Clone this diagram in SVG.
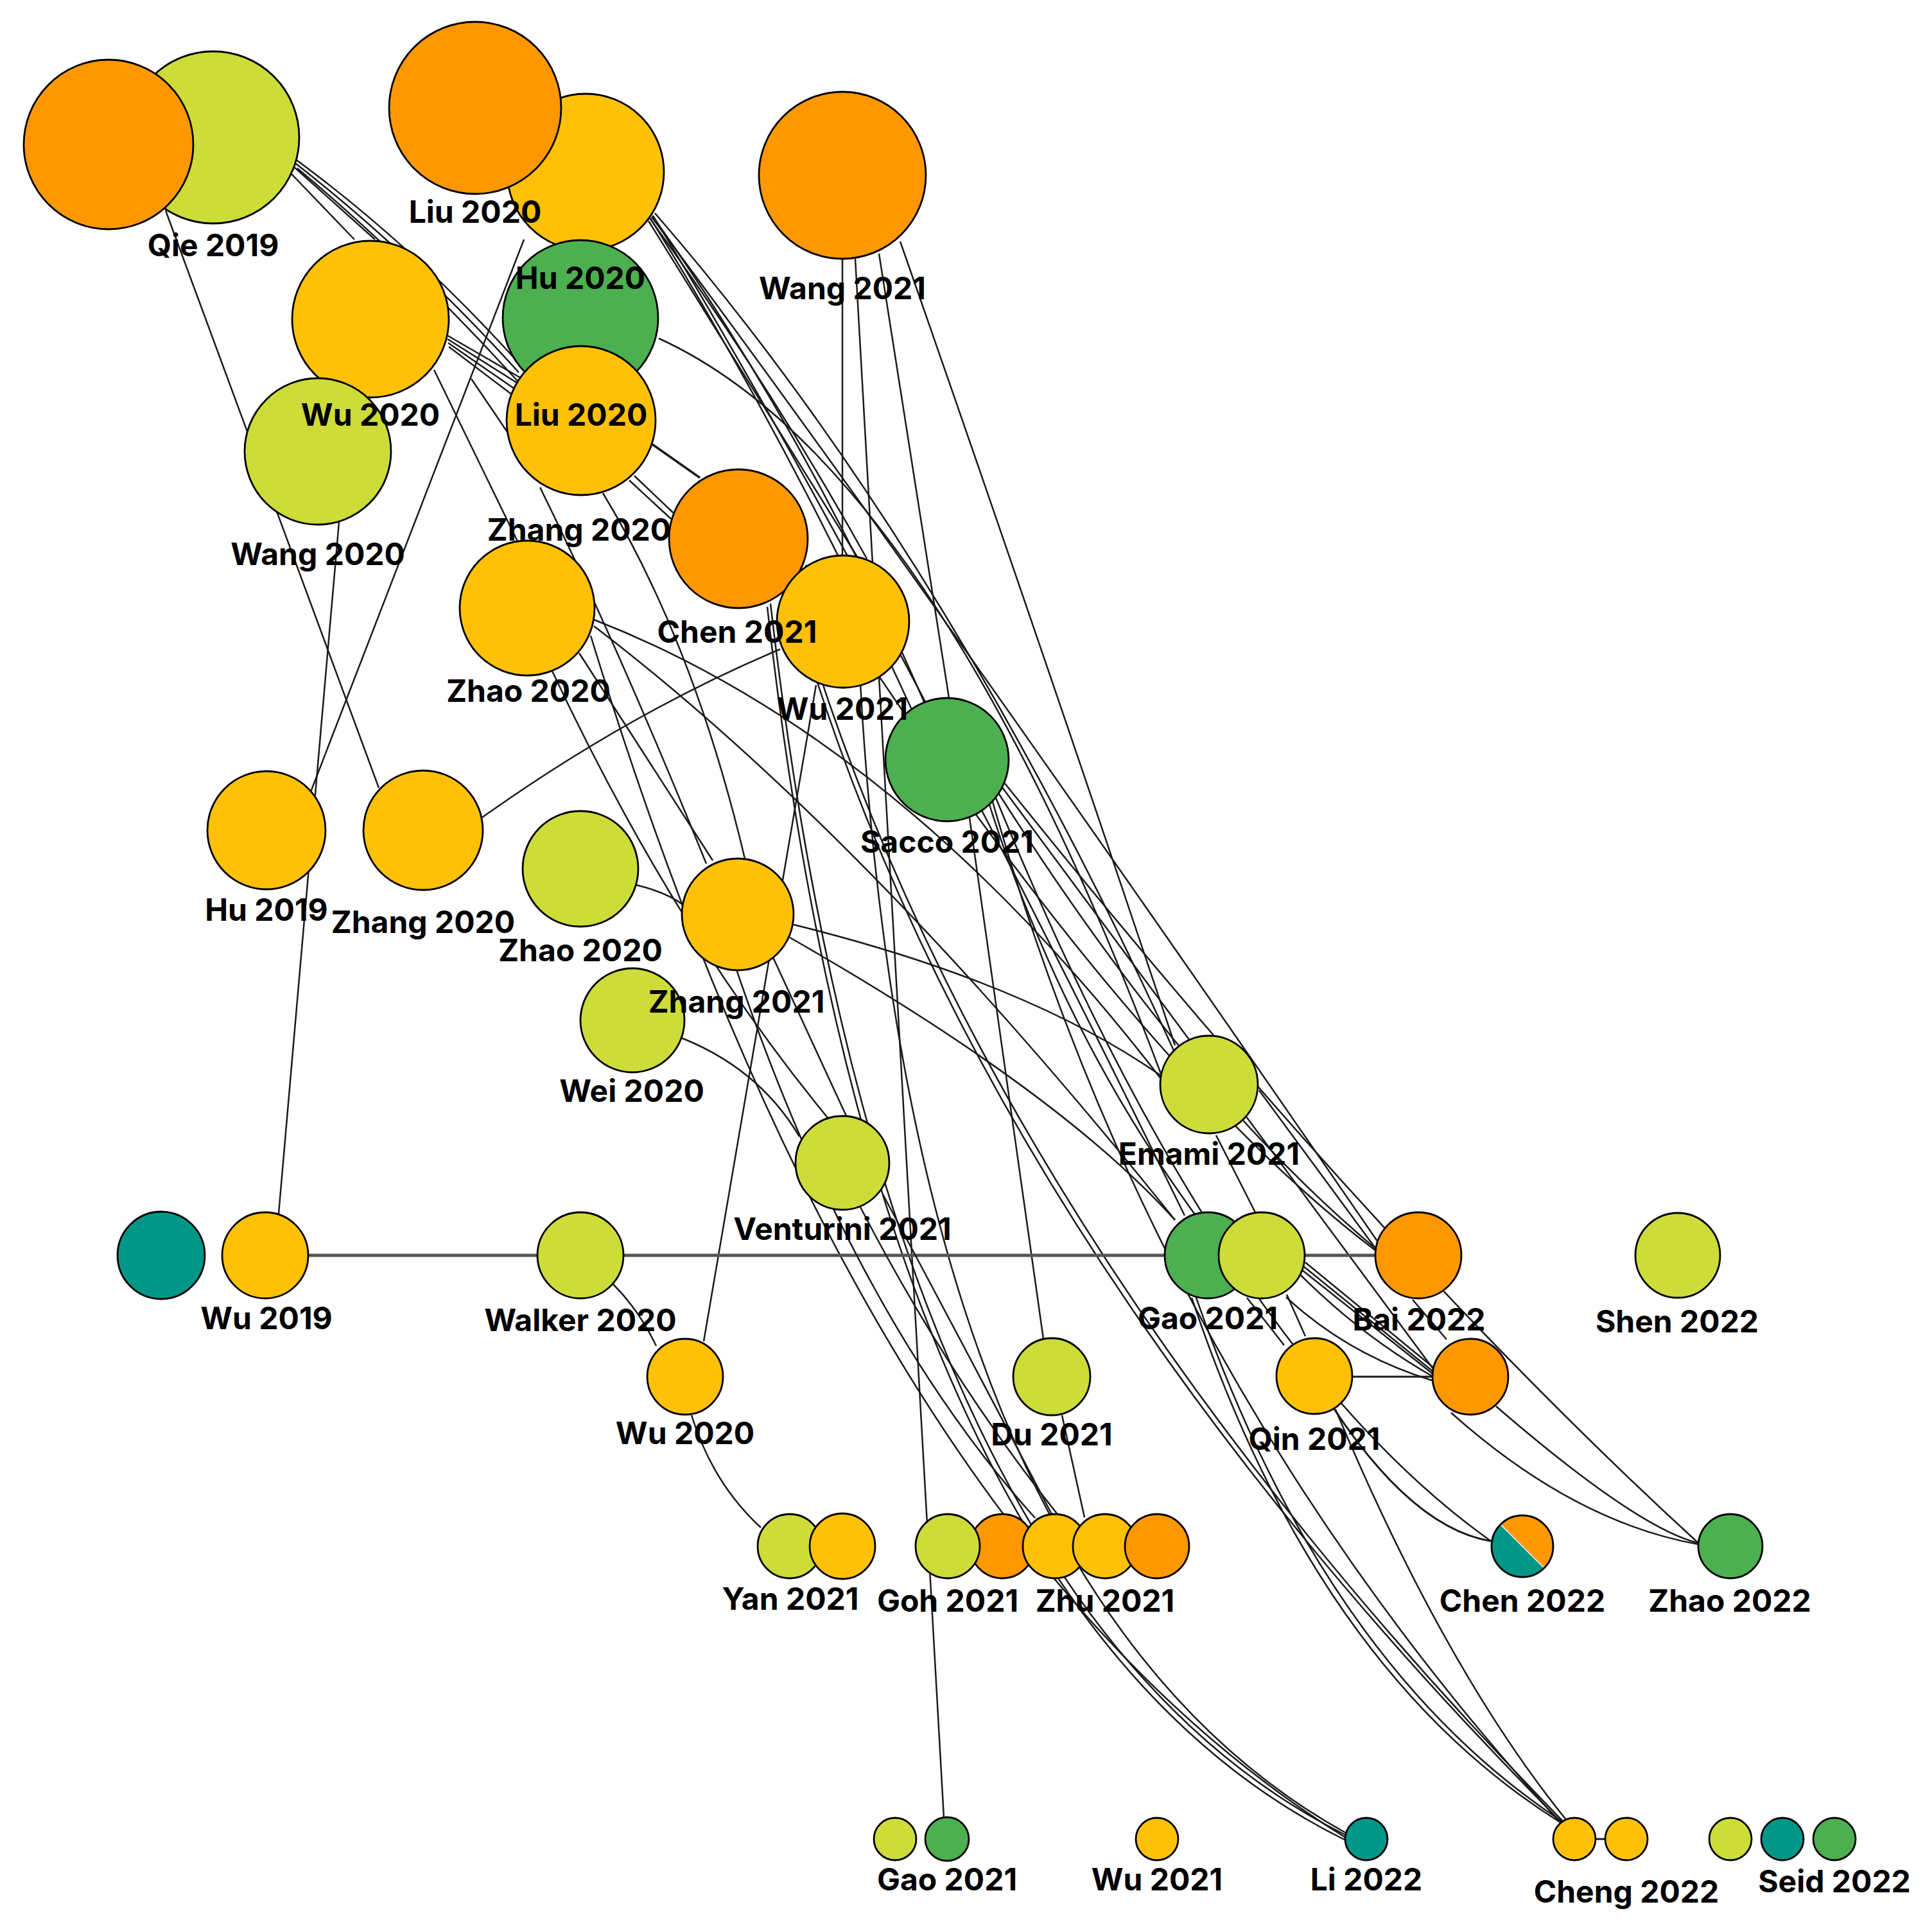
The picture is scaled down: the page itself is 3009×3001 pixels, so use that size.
<svg xmlns="http://www.w3.org/2000/svg" width="3009" height="3001" viewBox="0 0 3009 3001">
<style>
.bg{fill:#fff}
.e{fill:none;stroke:#1a1a1a;stroke-width:2.5}
.eh{fill:none;stroke:#555;stroke-width:5}
.n{stroke:#000;stroke-width:2.8}
.o{fill:#FF9800}.y{fill:#FFC107}.l{fill:#CDDC39}.g{fill:#4CAF50}.t{fill:#009688}
.lb{font-family:Inter,"Liberation Sans",sans-serif;font-size:48px;font-weight:700;text-anchor:middle;fill:#000}
</style>
<rect class="bg" x="0" y="0" width="3009" height="3001"/>
<g id="edges">
<path class="e" d="M454,271 L552,373"/>
<path class="e" d="M459,261 L584,373"/>
<path class="e" d="M460,248 Q640,380 803,560"/>
<path class="e" d="M461,255 Q640,395 808,580"/>
<path class="e" d="M463,262 Q640,410 812,600"/>
<path class="e" d="M258,328 L590,1227"/>
<path class="e" d="M816,373 L484,1233"/>
<path class="e" d="M528,813 L434,1890"/>
<path class="e" d="M696,522 L810,588"/>
<path class="e" d="M697,528 L808,598"/>
<path class="e" d="M698,534 L805,608"/>
<path class="e" d="M699,540 L802,618"/>
<path class="e" d="M676,576 L806,843"/>
<path class="e" d="M734,590 L795,680"/>
<path class="e" d="M751,1273 Q980,1110 1215,1011"/>
<path class="e" style="stroke-width:3.5" d="M1016,692 L1090,744"/>
<path class="e" d="M988,741 L1050,800"/>
<path class="e" d="M980,748 L1045,808"/>
<path class="e" d="M841,759 Q960,1000 1100,1345"/>
<path class="e" d="M939,768 Q1080,1000 1160,1337"/>
<path class="e" d="M902,1017 L1110,1340"/>
<path class="e" d="M860,1045 Q1050,1450 1290,1742"/>
<path class="e" d="M1204,1491 L1319,1740"/>
<path class="e" d="M1050,1612 Q1180,1660 1245,1770"/>
<path class="e" d="M990,1378 Q1040,1390 1065,1410"/>
<path class="e" d="M1236,1440 Q1600,1530 1808,1675"/>
<path class="e" d="M1271,1067 L1096,2089"/>
<path class="e" d="M955,2000 Q995,2040 1022,2096"/>
<path class="e" d="M1077,2204 Q1110,2310 1185,2379"/>
<path class="e" d="M1312,403 L1312,867"/>
<path class="e" d="M1332,403 Q1395,1600 1470,2831"/>
<path class="e" d="M1369,395 L1478,1087"/>
<path class="e" d="M1402,376 Q1620,1000 1830,1628"/>
<path class="e" d="M1510,1274 L1625,2085"/>
<path class="e" d="M1654,2204 L1689,2363"/>
<path class="e" d="M1010,344 L1335,867"/>
<path class="e" d="M1012,340 Q1200,600 1350,870"/>
<path class="e" d="M1020,332 Q1470,850 1829,1638"/>
<path class="e" d="M1013,340 Q1230,690 1420,1105"/>
<path class="e" d="M1016,336 Q1260,680 1440,1095"/>
<path class="e" d="M1017,336 Q1350,880 1845,1893"/>
<path class="e" d="M1015,338 Q1420,880 2150,1940"/>
<path class="e" d="M1026,527 Q1450,720 1808,1672"/>
<path class="e" d="M925,965 Q1400,1150 1808,1680"/>
<path class="e" d="M925,975 Q1350,1300 1830,1900"/>
<path class="e" d="M920,990 Q1350,2400 2096,2862"/>
<path class="e" d="M1200,940 Q1380,2500 2096,2858"/>
<path class="e" d="M1195,945 Q1370,2510 2096,2866"/>
<path class="e" d="M1340,1065 Q1420,2480 2097,2855"/>
<path class="e" d="M1540,1250 Q1650,1600 1860,1890"/>
<path class="e" d="M1555,1235 Q1850,1700 2143,1945"/>
<path class="e" d="M1560,1225 Q1950,1750 2233,2133"/>
<path class="e" d="M1545,1245 Q1800,2150 2430,2838"/>
<path class="e" d="M1565,1220 Q2150,1950 2645,2403"/>
<path class="e" d="M1550,1240 Q1900,2100 2322,2400"/>
<path class="e" d="M1961,1698 L2143,1945"/>
<path class="e" d="M1894,1768 L1956,1890"/>
<path class="e" d="M1255,880 Q1750,1650 2143,1948"/>
<path class="e" d="M2033,1966 L2234,2131"/>
<path class="e" d="M2030,1972 L2232,2136"/>
<path class="e" d="M2028,1978 L2232,2140"/>
<path class="e" d="M2025,1985 Q2120,2080 2232,2144"/>
<path class="e" d="M2003,2020 Q2100,2110 2231,2150"/>
<path class="e" d="M2004,2016 L2033,2081"/>
<path class="e" d="M1942,2021 L2000,2095"/>
<path class="e" d="M1856,2021 Q2050,2600 2430,2838"/>
<path class="e" d="M1862,2018 Q2060,2590 2432,2836"/>
<path class="e" d="M1230,920 Q1500,1900 2432,2838"/>
<path class="e" d="M1235,915 Q1510,1890 2434,2836"/>
<path class="e" d="M2200,2024 L2253,2086"/>
<path class="e" style="stroke-width:3" d="M2106,2144 L2231,2144"/>
<path class="e" d="M2330,2190 Q2550,2380 2645,2403"/>
<path class="e" d="M2260,2200 Q2450,2370 2645,2405"/>
<path class="e" style="stroke-width:3" d="M2075,2190 Q2200,2380 2322,2400"/>
<path class="e" d="M2080,2195 Q2250,2600 2440,2835"/>
<path class="e" style="stroke-width:3" d="M2480,2864 L2505,2864"/>
<path class="eh" d="M413,1955 L2209,1955"/>
<path class="e" d="M1147,1510 Q1330,2050 1612,2364"/>
<path class="e" d="M1340,1880 Q1480,2150 1650,2362"/>
<path class="e" d="M1375,1860 Q1530,2150 1640,2362"/>
<path class="e" d="M1230,1460 Q1650,1700 1830,1900"/>
</g>
<g id="nodes">
<g id="n2"><circle class="n l" cx="332" cy="214" r="134"/></g>
<g id="n1"><circle class="n o" cx="169" cy="225" r="132"/></g>
<g id="n4"><circle class="n y" cx="912" cy="268" r="122"/></g>
<g id="n3"><circle class="n o" cx="740" cy="168" r="134"/></g>
<g id="n5"><circle class="n g" cx="904" cy="495" r="121"/></g>
<g id="n8"><circle class="n y" cx="905" cy="655" r="116"/></g>
<g id="n6"><circle class="n y" cx="577" cy="497" r="122"/></g>
<g id="n7"><circle class="n l" cx="495" cy="703" r="114"/></g>
<g id="n9"><circle class="n o" cx="1312" cy="273" r="130"/></g>
<g id="n10"><circle class="n o" cx="1150" cy="839" r="108"/></g>
<g id="n11"><circle class="n y" cx="1313" cy="968" r="103"/></g>
<g id="n12"><circle class="n y" cx="821" cy="947" r="105"/></g>
<g id="n13"><circle class="n g" cx="1475" cy="1183" r="96"/></g>
<g id="n14"><circle class="n y" cx="415" cy="1293" r="92"/></g>
<g id="n15"><circle class="n y" cx="659" cy="1293" r="93"/></g>
<g id="n16"><circle class="n l" cx="904" cy="1353" r="90"/></g>
<g id="n17"><circle class="n l" cx="985" cy="1589" r="81"/></g>
<g id="n18"><circle class="n y" cx="1149" cy="1424" r="87"/></g>
<g id="n19"><circle class="n l" cx="1312" cy="1811" r="73"/></g>
<g id="n20"><circle class="n l" cx="1883" cy="1689" r="76"/></g>
<g id="n21"><circle class="n t" cx="251" cy="1955" r="68"/></g>
<g id="n22"><circle class="n y" cx="413" cy="1955" r="67"/></g>
<g id="n23"><circle class="n l" cx="904" cy="1955" r="67"/></g>
<g id="n24"><circle class="n g" cx="1881" cy="1955" r="67"/></g>
<g id="n25"><circle class="n l" cx="1965" cy="1955" r="67"/></g>
<g id="n26"><circle class="n o" cx="2209" cy="1955" r="67"/></g>
<g id="n27"><circle class="n l" cx="2613" cy="1955" r="66"/></g>
<g id="n28"><circle class="n y" cx="1067" cy="2144" r="59"/></g>
<g id="n29"><circle class="n l" cx="1638" cy="2144" r="60"/></g>
<g id="n30"><circle class="n y" cx="2047" cy="2143" r="59"/></g>
<g id="n31"><circle class="n o" cx="2290" cy="2144" r="59"/></g>
<g id="n32"><circle class="n l" cx="1230" cy="2408" r="50"/></g>
<g id="n33"><circle class="n y" cx="1312" cy="2408" r="51"/></g>
<g id="n35"><circle class="n o" cx="1561" cy="2408" r="50"/></g>
<g id="n34"><circle class="n l" cx="1476" cy="2408" r="50"/></g>
<g id="n36"><circle class="n y" cx="1643" cy="2408" r="50"/></g>
<g id="n37"><circle class="n y" cx="1721" cy="2408" r="50"/></g>
<g id="n38"><circle class="n o" cx="1802" cy="2408" r="50"/></g>
<g id="n39">
<path class="o" d="M2337,2374 A48,48 0 0 1 2405,2442 Z"/>
<path class="t" d="M2405,2442 A48,48 0 0 1 2337,2374 Z"/>
<line x1="2337" y1="2374" x2="2405" y2="2442" stroke="#ddd" stroke-width="2"/>
<circle cx="2371" cy="2408" r="48" fill="none" stroke="#000" stroke-width="2.8"/>
</g>
<g id="n40"><circle class="n g" cx="2695" cy="2408" r="50"/></g>
<g id="n41"><circle class="n l" cx="1394" cy="2864" r="33"/></g>
<g id="n42"><circle class="n g" cx="1475" cy="2864" r="34"/></g>
<g id="n43"><circle class="n y" cx="1802" cy="2864" r="33"/></g>
<g id="n44"><circle class="n t" cx="2128" cy="2864" r="33"/></g>
<g id="n45"><circle class="n y" cx="2452" cy="2864" r="33"/></g>
<g id="n46"><circle class="n y" cx="2533" cy="2864" r="33"/></g>
<g id="n47"><circle class="n l" cx="2695" cy="2864" r="33"/></g>
<g id="n48"><circle class="n t" cx="2776" cy="2864" r="33"/></g>
<g id="n49"><circle class="n g" cx="2857" cy="2864" r="33"/></g>
</g>
<g id="labels">
<text class="lb" x="332" y="399">Qie 2019</text>
<text class="lb" x="740" y="347">Liu 2020</text>
<text class="lb" x="904" y="450">Hu 2020</text>
<text class="lb" x="905" y="663">Liu 2020</text>
<text class="lb" x="577" y="663">Wu 2020</text>
<text class="lb" x="495" y="880">Wang 2020</text>
<text class="lb" x="902" y="842">Zhang 2020</text>
<text class="lb" x="1312" y="466">Wang 2021</text>
<text class="lb" x="1148" y="1001">Chen 2021</text>
<text class="lb" x="1312" y="1121">Wu 2021</text>
<text class="lb" x="823" y="1093">Zhao 2020</text>
<text class="lb" x="1475" y="1328">Sacco 2021</text>
<text class="lb" x="415" y="1434">Hu 2019</text>
<text class="lb" x="659" y="1453">Zhang 2020</text>
<text class="lb" x="904" y="1497">Zhao 2020</text>
<text class="lb" x="984" y="1716">Wei 2020</text>
<text class="lb" x="1147" y="1577">Zhang 2021</text>
<text class="lb" x="1312" y="1931">Venturini 2021</text>
<text class="lb" x="1883" y="1814">Emami 2021</text>
<text class="lb" x="415" y="2070">Wu 2019</text>
<text class="lb" x="904" y="2073">Walker 2020</text>
<text class="lb" x="1881" y="2070">Gao 2021</text>
<text class="lb" x="2210" y="2072">Bai 2022</text>
<text class="lb" x="2612" y="2075">Shen 2022</text>
<text class="lb" x="1067" y="2249">Wu 2020</text>
<text class="lb" x="1638" y="2251">Du 2021</text>
<text class="lb" x="2047" y="2258">Qin 2021</text>
<text class="lb" x="1231" y="2507">Yan 2021</text>
<text class="lb" x="1476" y="2510">Goh 2021</text>
<text class="lb" x="1721" y="2510">Zhu 2021</text>
<text class="lb" x="2371" y="2510">Chen 2022</text>
<text class="lb" x="2694" y="2510">Zhao 2022</text>
<text class="lb" x="1475" y="2944">Gao 2021</text>
<text class="lb" x="1802" y="2944">Wu 2021</text>
<text class="lb" x="2128" y="2944">Li 2022</text>
<text class="lb" x="2533" y="2963">Cheng 2022</text>
<text class="lb" x="2857" y="2947">Seid 2022</text>
</g>
</svg>
